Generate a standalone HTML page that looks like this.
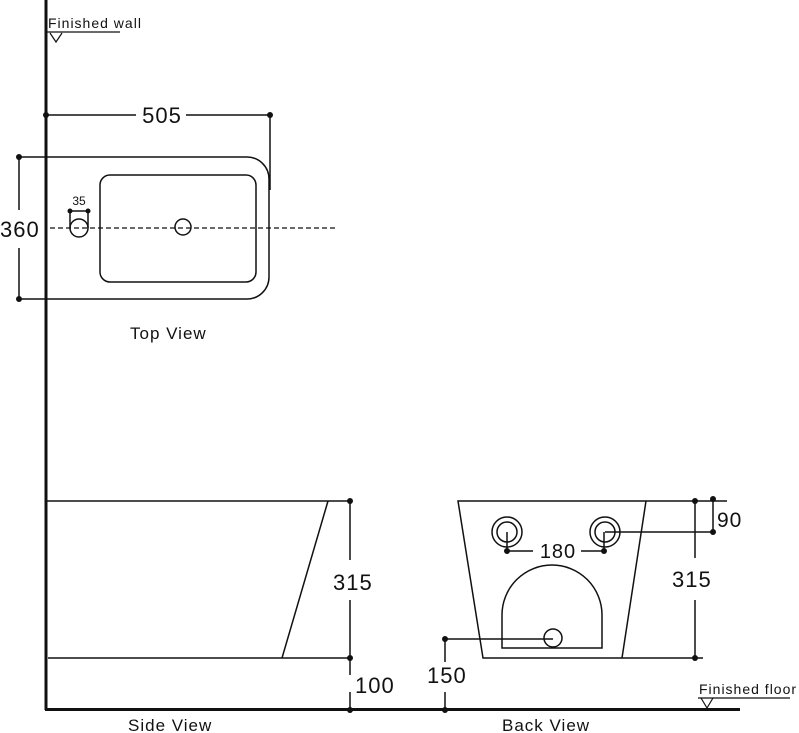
<!DOCTYPE html>
<html><head><style>html,body{margin:0;padding:0;background:#fff}svg{display:block}text{font-family:"Liberation Sans",sans-serif;fill:#111}</style></head><body>
<svg width="799" height="733" viewBox="0 0 799 733" xmlns="http://www.w3.org/2000/svg">
<g stroke="#111" fill="none" stroke-width="1.5">
<line x1="46" y1="0" x2="46" y2="710" stroke-width="3"/>
<line x1="45" y1="709.5" x2="740" y2="709.5" stroke-width="3"/>
<line x1="46" y1="32" x2="120" y2="32" stroke-width="1.2"/>
<polyline points="50,33 56,42 62,33" stroke-width="1.2"/>
<path d="M18,157 H247 A22,22 0 0 1 269,179 V277 A22,22 0 0 1 247,299 H18"/>
<rect x="100" y="175" width="156" height="107" rx="10"/>
<circle cx="183" cy="227" r="8"/>
<line x1="50" y1="228" x2="338" y2="228" stroke-dasharray="5,3" stroke-width="1.2"/>
<circle cx="79" cy="228" r="9"/>
<line x1="70" y1="211" x2="88" y2="211"/>
<line x1="70" y1="211" x2="70" y2="228"/><line x1="88" y1="211" x2="88" y2="228"/>
<line x1="46" y1="115" x2="136" y2="115"/><line x1="186" y1="115" x2="270" y2="115"/>
<line x1="270" y1="115" x2="270" y2="190"/>
<line x1="19" y1="157" x2="19" y2="210"/><line x1="19" y1="248" x2="19" y2="299"/>
<line x1="46" y1="501" x2="350" y2="501"/>
<line x1="328" y1="501" x2="282" y2="658"/>
<line x1="48" y1="658" x2="350" y2="658"/>
<line x1="350" y1="501" x2="350" y2="560"/><line x1="350" y1="600" x2="350" y2="658"/>
<line x1="350" y1="658" x2="350" y2="675"/><line x1="350" y1="692" x2="350" y2="710"/>
<polyline points="727,501 458,501 483,658 703,658"/>
<line x1="646" y1="501" x2="622" y2="658"/>
<circle cx="507" cy="532" r="15"/><circle cx="507" cy="532" r="10"/>
<circle cx="605" cy="532" r="15"/><circle cx="605" cy="532" r="10"/>
<line x1="507" y1="532" x2="507" y2="551"/><line x1="604" y1="532" x2="604" y2="551"/>
<line x1="507" y1="551" x2="533" y2="551"/><line x1="581" y1="551" x2="604" y2="551"/>
<line x1="605" y1="532" x2="713" y2="532"/>
<line x1="713" y1="499" x2="713" y2="532"/>
<line x1="695" y1="501" x2="695" y2="558"/><line x1="695" y1="600" x2="695" y2="658"/>
<path d="M502,648 V615 A50,50 0 0 1 602,615 V648 Z"/>
<circle cx="553" cy="638" r="9"/>
<line x1="445" y1="639" x2="553" y2="639"/>
<line x1="445" y1="639" x2="445" y2="662"/><line x1="445" y1="692" x2="445" y2="710"/>
<line x1="698" y1="698" x2="790" y2="698" stroke-width="1.2"/>
<polyline points="701,698 707,708 713,698" stroke-width="1.2"/>
</g>
<g fill="#111">
<circle cx="46" cy="115" r="3"/><circle cx="270" cy="115" r="3"/>
<circle cx="19" cy="157" r="3"/><circle cx="19" cy="299" r="3"/>
<circle cx="70" cy="211" r="2.5"/><circle cx="88" cy="211" r="2.5"/>
<circle cx="350" cy="501" r="3"/><circle cx="350" cy="658" r="3"/><circle cx="350" cy="710" r="3"/>
<circle cx="507" cy="551" r="3"/><circle cx="604" cy="551" r="3"/>
<circle cx="713" cy="499" r="3"/><circle cx="713" cy="532" r="3"/>
<circle cx="695" cy="501" r="3"/><circle cx="695" cy="658" r="3"/>
<circle cx="445" cy="639" r="3"/><circle cx="445" cy="710" r="3"/>
</g>
<g letter-spacing="1">
<text x="48" y="28" font-size="14">Finished wall</text>
<text x="162" y="123" font-size="22" text-anchor="middle">505</text>
<text x="0" y="237" font-size="22">360</text>
<text x="79" y="205" font-size="12" text-anchor="middle" letter-spacing="0">35</text>
<text x="130" y="339" font-size="17">Top View</text>
<text x="333" y="590" font-size="22">315</text>
<text x="355" y="693" font-size="22">100</text>
<text x="128" y="731" font-size="17">Side View</text>
<text x="558" y="558" font-size="20" text-anchor="middle">180</text>
<text x="717" y="527" font-size="21">90</text>
<text x="672" y="587" font-size="22">315</text>
<text x="427" y="683" font-size="22">150</text>
<text x="699" y="694" font-size="14">Finished floor</text>
<text x="502" y="731" font-size="17">Back View</text>
</g>
</svg>
</body></html>
